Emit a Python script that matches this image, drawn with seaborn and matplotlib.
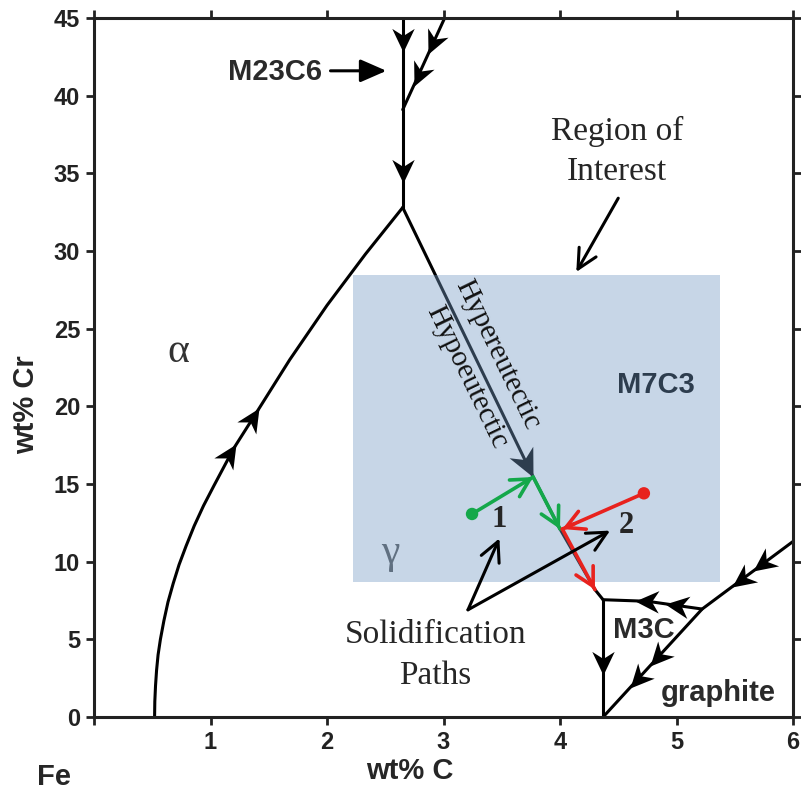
import numpy as np
import matplotlib
matplotlib.use("Agg")
import matplotlib.pyplot as plt
import seaborn as sns
from matplotlib.path import Path
from matplotlib.markers import MarkerStyle
from matplotlib.transforms import Affine2D

# ---------------- data ----------------
X_TICKS = [0, 1, 2, 3, 4, 5, 6]
X_TICK_LABELS = ["", "1", "2", "3", "4", "5", "6"]
Y_TICKS = [0, 5, 10, 15, 20, 25, 30, 35, 40, 45]

# liquidus valley lines (wt% C, wt% Cr), listed in the direction of the arrows
M23_X = [2.65, 2.65]
M23_Y = [45.0, 32.8]
BRANCH_X = [3.01, 2.65]
BRANCH_Y = [45.0, 39.1]
ALPHA_X = [0.52, 0.522, 0.528, 0.537, 0.55, 0.57, 0.60, 0.635, 0.68, 0.73,
           0.79, 0.86, 0.94, 1.03, 1.20, 1.42, 1.68, 2.00, 2.33, 2.65]
ALPHA_Y = [0.0, 1.0, 2.0, 3.0, 4.0, 5.0, 6.2, 7.4, 8.6, 9.8,
           11.0, 12.3, 13.6, 14.9, 17.3, 19.9, 23.0, 26.5, 29.8, 32.8]
EUT_X = [2.65, 3.77, 4.00, 4.30, 4.37]
EUT_Y = [32.8, 15.45, 12.1, 8.2, 7.55]
M3C_X = [5.22, 4.75, 4.37]
M3C_Y = [6.95, 7.45, 7.55]
VERT_X = [4.37, 4.37]
VERT_Y = [7.55, 0.0]
GRAPH_X = [6.0, 5.22, 4.37]
GRAPH_Y = [11.3, 6.95, 0.0]

# arrow-head tips on the valley lines
ARROW_LINE = ["m23", "m23", "branch", "branch", "alpha", "alpha", "eut",
              "m3c", "m3c", "vert", "graph", "graph", "graph", "graph"]
ARROW_X = [2.65, 2.65, 2.87, 2.745, 1.22, 1.42, 3.77,
           4.64, 4.90, 4.37, 5.48, 5.66, 4.60, 4.77]
ARROW_Y = [42.8, 34.4, 42.7, 40.6, 17.6, 19.9, 15.45,
           7.48, 7.29, 2.7, 8.40, 9.40, 1.88, 3.27]

# region of interest
ROI_X = [2.22, 5.37]
ROI_Y = [8.7, 28.46]

# solidification paths
PATH1_X = [3.245, 3.77, 4.00]
PATH1_Y = [13.07, 15.45, 12.1]
PATH2_X = [4.72, 4.02, 4.30]
PATH2_Y = [14.4, 12.1, 8.2]

# ---------------- style ----------------
sns.set_theme(style="ticks")
SANS = ["Liberation Sans", "DejaVu Sans"]
SERIF = ["Liberation Serif", "DejaVu Serif"]
plt.rcParams["font.family"] = SANS
plt.rcParams["axes.linewidth"] = 2.2

LW = 2.2
GREEN = "#14a84a"
RED = "#e8221e"
ROI_COLOR = (0.45, 0.60, 0.77)

fig = plt.figure(figsize=(8.01, 7.93), dpi=100)
fig.patch.set_facecolor("white")
ax = fig.add_axes([94 / 801, 76 / 793, 699 / 801, 699 / 793])
ax.set_facecolor("white")
ax.set_xlim(0, 6)
ax.set_ylim(0, 45)

lines = {
    "m23": (M23_X, M23_Y),
    "branch": (BRANCH_X, BRANCH_Y),
    "alpha": (ALPHA_X, ALPHA_Y),
    "eut": (EUT_X, EUT_Y),
    "m3c": (M3C_X, M3C_Y),
    "vert": (VERT_X, VERT_Y),
    "graph": (GRAPH_X, GRAPH_Y),
}
for name, (lx, ly) in lines.items():
    sns.lineplot(x=lx, y=ly, sort=False, estimator=None, color="black",
                 lw=LW, ax=ax, legend=False, zorder=2)

# stealth arrow heads along the lines
head_path = Path([(0, 0), (-2, 0.95), (-1.4, 0), (-2, -0.95), (0, 0)],
                 [Path.MOVETO, Path.LINETO, Path.LINETO, Path.LINETO, Path.CLOSEPOLY])


def seg_dir(lx, ly, px, py):
    best, bd = None, 1e9
    for i in range(len(lx) - 1):
        a = np.array([lx[i], ly[i]]); b = np.array([lx[i + 1], ly[i + 1]])
        sx = np.array([1.0, 1 / 7.5])
        ab = (b - a) * sx; ap = (np.array([px, py]) - a) * sx
        t = np.clip(np.dot(ap, ab) / np.dot(ab, ab), 0, 1)
        d = np.linalg.norm(ap - t * ab)
        if d < bd:
            bd, best = d, (a, b)
    return best


for ln, tx, ty in zip(ARROW_LINE, ARROW_X, ARROW_Y):
    lx, ly = lines[ln]
    a, b = seg_dir(lx, ly, tx, ty)
    pa = ax.transData.transform(a); pb = ax.transData.transform(b)
    ang = np.degrees(np.arctan2(pb[1] - pa[1], pb[0] - pa[0]))
    ms = 40 if ln == "eut" else 34
    m = MarkerStyle(head_path, transform=Affine2D().rotate_deg(ang))
    ax.plot([tx], [ty], marker=m, markersize=ms, color="black", lw=0,
            markeredgewidth=0, zorder=2.5)

# labels under the region-of-interest overlay
ax.text(4.82, 21.4, "M7C3", fontsize=21, fontweight="bold", color="black",
        ha="center", va="center", zorder=2.5)
ax.text(2.54, 10.6, "γ", fontsize=30, family=SERIF, color="#555555",
        ha="center", va="center", zorder=2.5)

# region of interest
ax.fill_between(ROI_X, ROI_Y[0], ROI_Y[1], color=ROI_COLOR, alpha=0.4,
                lw=0, zorder=3)

# eutectic trough labels
p0 = ax.transData.transform((EUT_X[0], EUT_Y[0]))
p1 = ax.transData.transform((EUT_X[1], EUT_Y[1]))
rot = np.degrees(np.arctan2(p1[1] - p0[1], p1[0] - p0[0]))
ax.text(3.46, 23.3, "Hypereutectic", fontsize=21, family=SERIF, color="#111111",
        rotation=rot, rotation_mode="anchor", ha="center", va="center", zorder=4)
ax.text(3.20, 21.9, "Hypoeutectic", fontsize=21, family=SERIF, color="#111111",
        rotation=rot, rotation_mode="anchor", ha="center", va="center", zorder=4)

# solidification paths
for px_, py_, col in [(PATH1_X, PATH1_Y, GREEN), (PATH2_X, PATH2_Y, RED)]:
    sns.lineplot(x=px_[:2], y=py_[:2], sort=False, estimator=None, color=col,
                 lw=2.6, ax=ax, legend=False, zorder=5)
    sns.lineplot(x=px_[1:], y=py_[1:], sort=False, estimator=None, color=col,
                 lw=2.6, ax=ax, legend=False, zorder=5)
    sns.scatterplot(x=px_[:1], y=py_[:1], color=col, s=80, ax=ax,
                    edgecolor="none", zorder=6, legend=False)
    for i in (0, 1):
        a = np.array([px_[i], py_[i]]); b = np.array([px_[i + 1], py_[i + 1]])
        ax.annotate("", xy=b, xytext=b - (b - a) * 0.15,
                    arrowprops=dict(arrowstyle="->,head_length=0.65,head_width=0.35",
                                    color=col, lw=2.6, shrinkA=0, shrinkB=0,
                                    mutation_scale=20),
                    zorder=6)

ax.text(3.48, 12.7, "1", fontsize=22, fontweight="bold", family=SERIF,
        ha="center", va="center", zorder=6)
ax.text(4.57, 12.3, "2", fontsize=22, fontweight="bold", family=SERIF,
        ha="center", va="center", zorder=6)

# annotation arrows
open_arrow = dict(arrowstyle="->,head_length=0.7,head_width=0.35", color="black",
                  lw=2.2, shrinkA=0, shrinkB=0, mutation_scale=20)
ax.annotate("", xy=(3.48, 11.5), xytext=(3.21, 6.9), arrowprops=open_arrow, zorder=6)
ax.annotate("", xy=(4.43, 12.0), xytext=(3.21, 6.9), arrowprops=open_arrow, zorder=6)
ax.annotate("", xy=(4.14, 28.65), xytext=(4.50, 33.4), arrowprops=open_arrow, zorder=6)
ax.annotate("", xy=(2.51, 41.6), xytext=(2.03, 41.6),
            arrowprops=dict(arrowstyle="-|>,head_length=0.8,head_width=0.35",
                            color="black", lw=2.2, shrinkA=0, shrinkB=0,
                            mutation_scale=20), zorder=6)

# text labels
ax.text(1.55, 41.5, "M23C6", fontsize=21, fontweight="bold", color="#2a2a2a",
        ha="center", va="center")
ax.text(0.72, 23.5, "α", fontsize=30, family=SERIF, color="#333333",
        ha="center", va="center")
ax.text(4.49, 36.4, "Region of\nInterest", fontsize=24, family=SERIF,
        ha="center", va="center", linespacing=1.4)
ax.text(2.93, 4.0, "Solidification\nPaths", fontsize=24, family=SERIF,
        ha="center", va="center", linespacing=1.45, zorder=6)
ax.text(4.72, 5.6, "M3C", fontsize=21, fontweight="bold", color="#2a2a2a",
        ha="center", va="center")
ax.text(5.36, 1.55, "graphite", fontsize=21, fontweight="bold", color="#2a2a2a",
        ha="center", va="center")

# axes
ax.set_xticks(X_TICKS)
ax.set_xticklabels(X_TICK_LABELS)
ax.set_yticks(Y_TICKS)
ax.set_yticklabels([str(v) for v in Y_TICKS])
ax.tick_params(axis="both", which="major", direction="out", length=6, width=2,
               top=True, right=True, labelsize=17, pad=4, colors="#222222")
for lab in ax.get_xticklabels() + ax.get_yticklabels():
    lab.set_fontweight("bold")
for sp in ax.spines.values():
    sp.set_visible(True)
    sp.set_linewidth(2.2)
    sp.set_color("#222222")
    sp.set_zorder(7)

ax.set_xlabel("wt% C", fontsize=21, fontweight="bold")
ax.xaxis.set_label_coords((410 - 94) / 699, (717 - 757) / 699)
ax.set_ylabel("wt% Cr", fontsize=21, fontweight="bold")
ax.yaxis.set_label_coords((40 - 94) / 699, (717 - 405) / 699)
fig.text(54 / 801, 1 - 777 / 793, "Fe", fontsize=21, fontweight="bold",
         ha="center", va="center")

fig.savefig("out.png", dpi=100, facecolor="white")
